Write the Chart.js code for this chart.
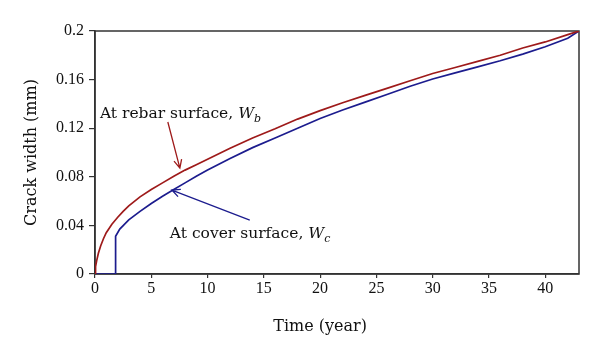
<!DOCTYPE html>
<html>
<head>
<meta charset="utf-8">
<script src="https://cdn.jsdelivr.net/npm/chart.js@4/dist/chart.umd.min.js"></script>
<style>
  html, body { margin: 0; padding: 0; background: #fff; }
  #wrap { width: 600px; height: 356px; position: relative; }
</style>
</head>
<body>
<div id="wrap"><canvas id="c" width="600" height="356"></canvas></div>
<script>
// ---- data ----
const rebarYears  = [0, 0.05, 0.15, 0.3, 0.5, 0.75, 1, 1.5, 2, 2.5, 3, 4, 5, 6, 7, 8, 9, 10, 12, 14, 16, 18, 20, 22, 24, 26, 28, 30, 32, 34, 36, 38, 40, 42, 43];
const rebarWidth  = [0, 0.006, 0.011, 0.017, 0.023, 0.029, 0.034, 0.041, 0.0465, 0.0515, 0.056, 0.0635, 0.0695, 0.075, 0.0805, 0.0855, 0.090, 0.0945, 0.1035, 0.112, 0.1195, 0.1275, 0.1345, 0.141, 0.147, 0.153, 0.159, 0.165, 0.170, 0.175, 0.180, 0.186, 0.191, 0.197, 0.2];
const coverYears  = [0, 1.83, 1.83, 2.2, 3, 4, 5, 6, 7, 8, 9, 10, 12, 14, 16, 18, 20, 22, 24, 26, 28, 30, 32, 34, 36, 38, 40, 42, 43];
const coverWidth  = [0, 0, 0.031, 0.037, 0.0445, 0.0515, 0.058, 0.064, 0.0695, 0.075, 0.0805, 0.0855, 0.095, 0.104, 0.112, 0.120, 0.128, 0.135, 0.1415, 0.148, 0.1545, 0.1605, 0.1655, 0.1705, 0.1755, 0.181, 0.187, 0.194, 0.2];
const xTickValues = [0, 5, 10, 15, 20, 25, 30, 35, 40];
const yTickValues = [0, 0.04, 0.08, 0.12, 0.16, 0.2];
const seriesLabels = ['At rebar surface, W_b', 'At cover surface, W_c'];

const RED = '#9e1a1a';
const BLUE = '#1c1c8e';
const AXIS = '#333333';
const TEXT_FONT = '"DejaVu Serif", serif';
const TICK_FONT = '"Liberation Serif", serif';

function pts(xs, ys) { return xs.map((x, i) => ({ x: x, y: ys[i] })); }

// annotation anchors in data units (year, mm)
const notes = [
  { main: 'At rebar surface, ', w: 'W', sub: 'b', color: RED, tx: 0.44, ty: 0.1284,
    from: [6.47, 0.1251], to: [7.54, 0.0872] },
  { main: 'At cover surface, ', w: 'W', sub: 'c', color: BLUE, tx: 6.65, ty: 0.0296,
    from: [13.75, 0.0444], to: [6.83, 0.0691] }
];

const annotPlugin = {
  id: 'annot',
  beforeDatasetsDraw(chart) {
    const ctx = chart.ctx;
    const a = chart.chartArea;
    ctx.save();
    ctx.strokeStyle = AXIS;
    ctx.lineWidth = 1.5;
    ctx.strokeRect(a.left, a.top, a.right - a.left, a.bottom - a.top);
    ctx.restore();
  },
  afterDraw(chart) {
    const ctx = chart.ctx;
    const xs = chart.scales.x, ys = chart.scales.y;
    ctx.save();
    notes.forEach(n => {
      const x1 = xs.getPixelForValue(n.from[0]), y1 = ys.getPixelForValue(n.from[1]);
      const x2 = xs.getPixelForValue(n.to[0]), y2 = ys.getPixelForValue(n.to[1]);
      ctx.strokeStyle = n.color;
      ctx.lineWidth = 1.3;
      ctx.beginPath();
      ctx.moveTo(x1, y1); ctx.lineTo(x2, y2);
      const ang = Math.atan2(y2 - y1, x2 - x1);
      const L = 9, spread = 0.45;
      ctx.moveTo(x2 - L * Math.cos(ang - spread), y2 - L * Math.sin(ang - spread));
      ctx.lineTo(x2, y2);
      ctx.lineTo(x2 - L * Math.cos(ang + spread), y2 - L * Math.sin(ang + spread));
      ctx.stroke();

      let tx = xs.getPixelForValue(n.tx), ty = ys.getPixelForValue(n.ty);
      ctx.fillStyle = '#111';
      ctx.textBaseline = 'alphabetic';
      ctx.textAlign = 'left';
      ctx.font = '15.5px ' + TEXT_FONT;
      ctx.fillText(n.main, tx, ty);
      tx += ctx.measureText(n.main).width;
      ctx.font = 'italic 15.5px ' + TEXT_FONT;
      ctx.fillText(n.w, tx, ty);
      tx += ctx.measureText(n.w).width;
      ctx.font = 'italic 11px ' + TEXT_FONT;
      ctx.fillText(n.sub, tx, ty + 4);
    });

    // x axis title centred under year 20
    ctx.fillStyle = '#111';
    ctx.font = '16px ' + TEXT_FONT;
    ctx.textAlign = 'center';
    ctx.textBaseline = 'alphabetic';
    ctx.fillText('Time (year)', xs.getPixelForValue(20), 331);
    ctx.restore();
  }
};

new Chart(document.getElementById('c'), {
  type: 'line',
  data: {
    datasets: [
      { label: seriesLabels[0], data: pts(rebarYears, rebarWidth), borderColor: RED, borderWidth: 1.7,
        pointRadius: 0, tension: 0, fill: false },
      { label: seriesLabels[1], data: pts(coverYears, coverWidth), borderColor: BLUE, borderWidth: 1.7,
        pointRadius: 0, tension: 0, fill: false }
    ]
  },
  options: {
    responsive: false,
    animation: false,
    layout: { padding: { top: 31, right: 21, left: 0, bottom: 0 } },
    plugins: { legend: { display: false }, tooltip: { enabled: false } },
    scales: {
      x: {
        type: 'linear', min: 0, max: 43,
        afterBuildTicks(s) { s.ticks = xTickValues.map(v => ({ value: v })); },
        afterFit(s) { s.height = 82; },
        grid: { display: true, drawOnChartArea: false, drawTicks: true, tickLength: 4, color: AXIS, lineWidth: 1.2 },
        border: { display: true, color: AXIS, width: 1.5 },
        ticks: { color: '#111', font: { family: TICK_FONT, size: 16 }, padding: 1, maxRotation: 0,
                 callback: v => String(v) },
        title: { display: false }
      },
      y: {
        type: 'linear', min: 0, max: 0.2,
        afterBuildTicks(s) { s.ticks = yTickValues.map(v => ({ value: v })); },
        afterFit(s) { s.width = 95; },
        grid: { display: true, drawOnChartArea: false, drawTicks: true, tickLength: 6, color: AXIS, lineWidth: 1.2 },
        border: { display: true, color: AXIS, width: 1.5 },
        ticks: { color: '#111', font: { family: TICK_FONT, size: 16 }, padding: 5,
                 callback: v => String(+v.toFixed(2)) },
        title: { display: true, text: 'Crack width (mm)', color: '#111',
                 font: { family: TEXT_FONT, size: 16 }, padding: { top: 22, bottom: 0 } }
      }
    }
  },
  plugins: [annotPlugin]
});
</script>
</body>
</html>
